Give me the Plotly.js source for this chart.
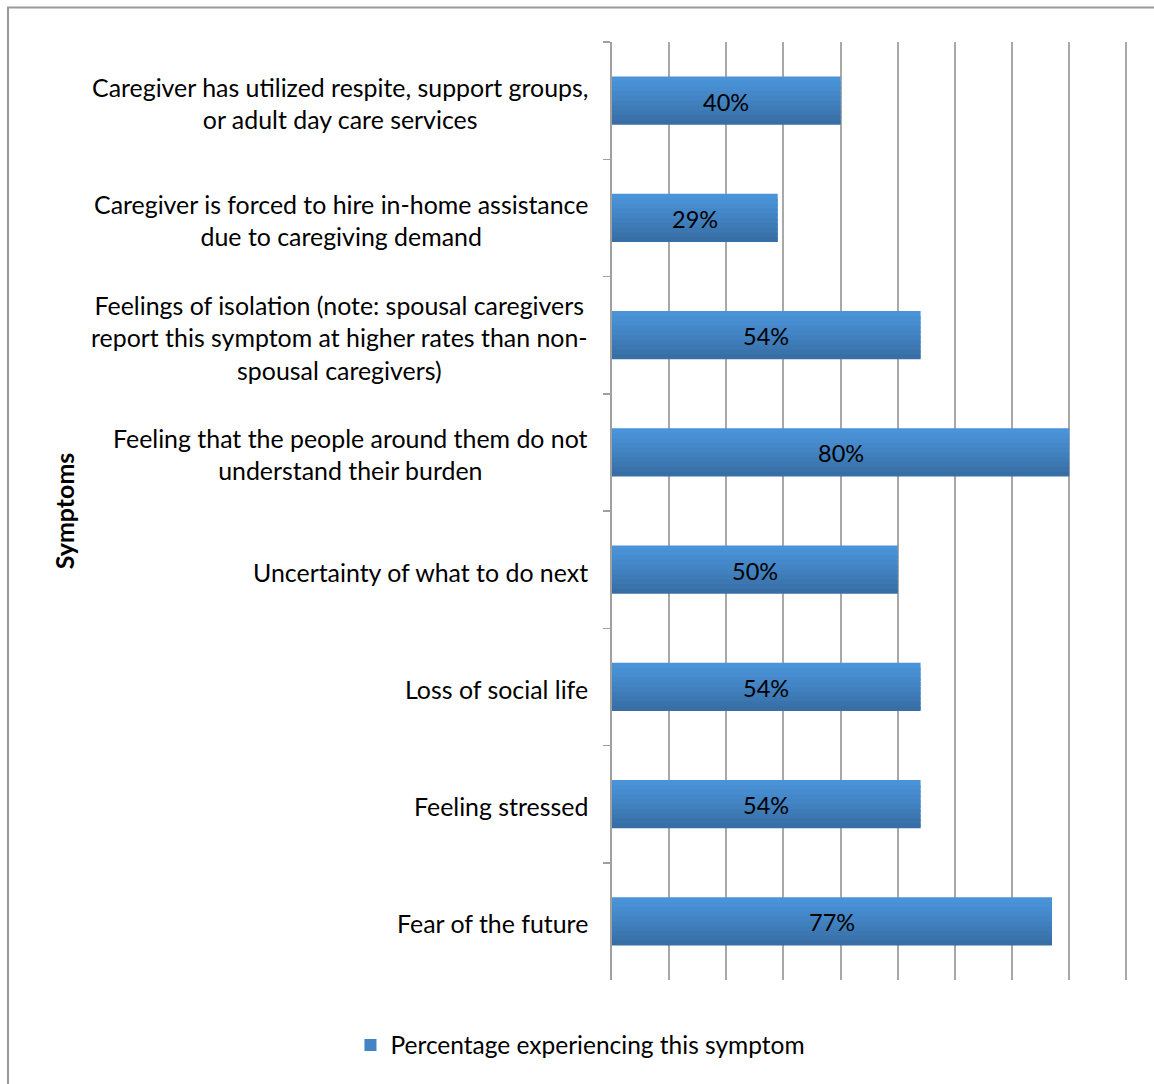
<!DOCTYPE html>
<html>
<head>
<meta charset="utf-8">
<script src="https://cdn.plot.ly/plotly-3.0.1.min.js"></script>
<style>html,body{margin:0;padding:0;background:#fff;}#chart{width:1154px;height:1084px;}</style>
</head>
<body>
<div id="chart"></div>
<script>
const categories = [
  "Caregiver has utilized respite, support groups,<br>or adult day care services",
  "Caregiver is forced to hire in-home assistance<br>due to caregiving demand",
  "Feelings of isolation (note: spousal caregivers<br>report this symptom at higher rates than non-<br>spousal caregivers)",
  "Feeling that the people around them do not<br>understand their burden",
  "Uncertainty of what to do next",
  "Loss of social life",
  "Feeling stressed",
  "Fear of the future"
];
const values = [40, 29, 54, 80, 50, 54, 54, 77];
const valueLabels = ["40%", "29%", "54%", "80%", "50%", "54%", "54%", "77%"];
const seriesName = "Percentage experiencing this symptom";
const yTitle = "Symptoms";

const FONT = "Lato, 'Open Sans', sans-serif";

// vertical gradient emulated with thin stacked bands (top light -> bottom dark)
const bandColors = ["#4a93d8", "#4890d4", "#468ccf", "#4488ca", "#4284c4", "#4080be", "#3e7cb8", "#3c77b2", "#3a73ac", "#386ea6"];
const barWidth = 0.41;
const bw = barWidth / bandColors.length;
const traces = bandColors.map((c, k) => ({
  type: "bar",
  orientation: "h",
  x: values,
  y: categories,
  name: seriesName,
  width: k < bandColors.length - 1 ? bw * 1.8 : bw,
  offset: -barWidth / 2 + k * bw,
  marker: {color: c, line: {width: 0}},
  showlegend: k === 4,
  hoverinfo: "none"
}));

const labelAnnotations = categories.map(c => ({
  xref: "paper", yref: "y",
  x: (590 - 612) / 516, y: c,
  xanchor: "right", yanchor: "middle",
  align: "center",
  yshift: -2,
  text: c,
  showarrow: false,
  font: {family: FONT, size: 24.9, color: "#000"}
}));

const valueAnnotations = values.map((v, i) => ({
  xref: "x", yref: "y",
  x: v / 2, y: categories[i],
  xanchor: "center", yanchor: "middle",
  yshift: -1,
  text: valueLabels[i],
  showarrow: false,
  font: {family: FONT, size: 23.5, color: "#000"}
}));

const layout = {
  width: 1154, height: 1084,
  margin: {l: 612, r: 26, t: 42, b: 104},
  paper_bgcolor: "#fff", plot_bgcolor: "#fff",
  barmode: "overlay",
  showlegend: true,
  legend: {orientation: "h", xref: "container", x: 0.503, xanchor: "center",
           yref: "container", y: 0.036, yanchor: "middle",
           font: {family: FONT, size: 24.5, color: "#000"}},
  xaxis: {range: [0, 90.3], dtick: 10, tick0: 0, showgrid: true, gridcolor: "#a8a8a8", gridwidth: 2,
          showticklabels: false, zeroline: false, showline: false, ticks: "", fixedrange: true},
  yaxis: {type: "category", autorange: "reversed", tickson: "boundaries", ticks: "outside",
          ticklen: 7, tickcolor: "#a0a0a0", tickwidth: 1.5, showgrid: false,
          showline: true, linecolor: "#a0a0a0", linewidth: 2,
          showticklabels: false,
          title: {text: "<b>" + yTitle + "</b>", font: {family: FONT, size: 25, color: "#000"}, standoff: 528}},
  annotations: labelAnnotations.concat(valueAnnotations),
  shapes: [{type: "rect", xref: "paper", yref: "paper",
            x0: (8 - 612) / 516, x1: (1170 - 612) / 516,
            y0: (1084 - 1100 - 104) / 938, y1: (1084 - 7.5 - 104) / 938,
            line: {color: "#999", width: 2}, fillcolor: "rgba(0,0,0,0)", layer: "below"}]
};

Plotly.newPlot("chart", traces, layout, {displayModeBar: false, staticPlot: true});
</script>
</body>
</html>
